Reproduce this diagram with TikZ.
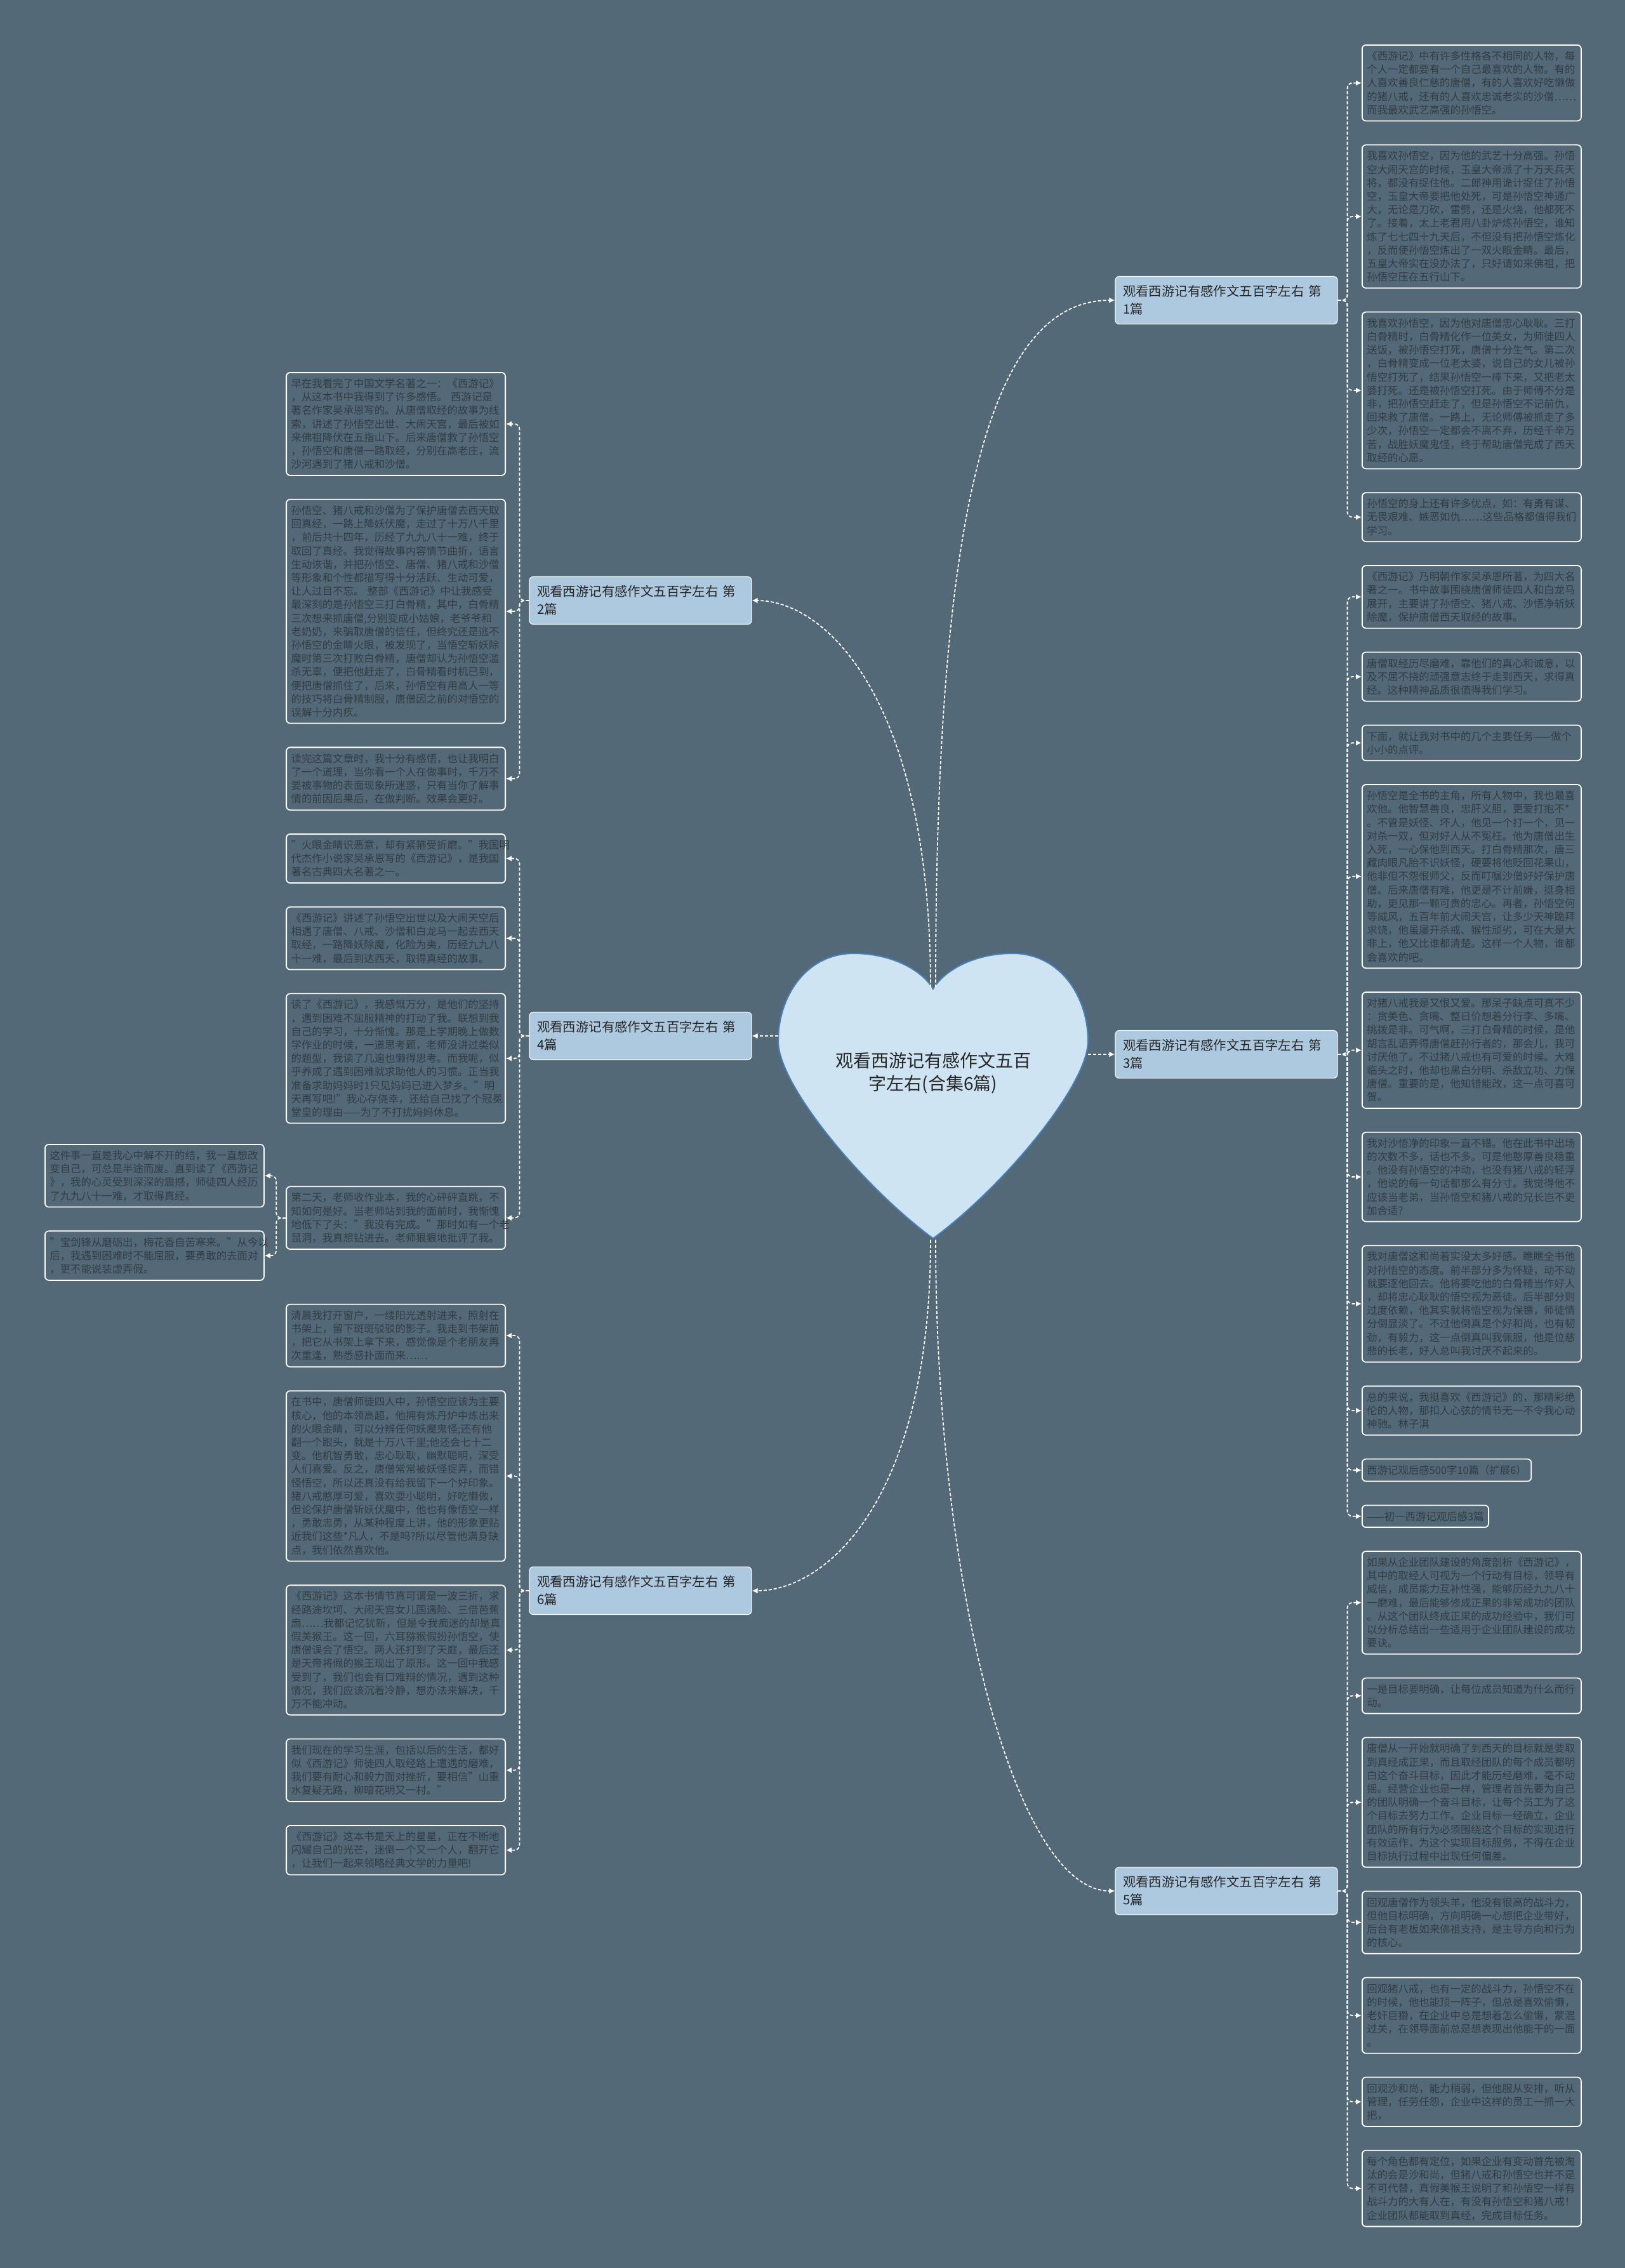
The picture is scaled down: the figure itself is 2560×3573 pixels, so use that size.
\documentclass[tikz,border=0pt]{standalone}
\usepackage{fontspec}
\setmainfont{Noto Sans CJK SC}
\usepackage{xcolor}
\usetikzlibrary{arrows.meta,positioning}

\definecolor{slatebg}{RGB}{83,105,120}
\definecolor{leafink}{RGB}{50,60,68}
\definecolor{branchfill}{RGB}{173,201,223}
\definecolor{heartfill}{RGB}{206,228,242}
\definecolor{heartline}{RGB}{72,128,186}

\newcommand\leaffont{\fontsize{8.2pt}{10.6pt}\selectfont}
\newcommand\branchfont{\fontsize{10.2pt}{14pt}\selectfont}
\newcommand\rootfont{\fontsize{14pt}{18pt}\selectfont}

\begin{document}
\begin{tikzpicture}[
    x=0.5pt, y=-0.5pt,
    node distance = 18pt,
    leafbase/.style = {draw=white, line width=0.9pt, rounded corners=3pt, fill=slatebg,
                       text=leafink, font=\leaffont, align=left,
                       inner xsep=3.75pt, inner ysep=4.86pt},
    leaf/.style     = {leafbase, text width=165pt},
    branch/.style   = {draw=white!85!branchfill, line width=0.6pt, rounded corners=3pt,
                       fill=branchfill, text=black!85, font=\branchfont,
                       text width=163pt, align=left, inner xsep=6pt, inner ysep=7pt},
    conn/.style     = {draw=white, line width=0.9pt, dash pattern=on 2.5pt off 1.5pt,
                       -{Latex[length=4.5pt,width=4.5pt]}},
    trunk/.style    = {conn, rounded corners=4pt},
]

% ---------------- Background ----------------
\fill[slatebg] (0,0) rectangle (2560,3573);
\useasboundingbox (0,0) rectangle (2560,3573);

% ---------------- Root (heart) ----------------
\draw[heartline, fill=heartfill, line width=1pt]
    (1470,1558) .. controls (1450,1525) and (1400,1502) .. (1345,1502)
    .. controls (1270,1502) and (1226,1570) .. (1226,1640)
    .. controls (1226,1710) and (1360,1870) .. (1470,1951)
    .. controls (1580,1870) and (1714,1710) .. (1714,1640)
    .. controls (1714,1570) and (1670,1502) .. (1595,1502)
    .. controls (1540,1502) and (1490,1525) .. cycle;
\node[font=\rootfont, text=black!85, align=center] (root) at (1470,1690)
    {观看西游记有感作文五百\\字左右(合集6篇)};

\coordinate (hN1) at (1474,1556);
\coordinate (hN2) at (1466,1556);
\coordinate (hS5) at (1474,1953);
\coordinate (hS6) at (1466,1953);
\coordinate (hE)  at (1714,1661);
\coordinate (hW)  at (1226,1632);

% ---------------- Branches ----------------
\node[branch] (B1) at (1932,473)  {观看西游记有感作文五百字左右 第\\1篇};
\node[branch] (B3) at (1932,1661) {观看西游记有感作文五百字左右 第\\3篇};
\node[branch] (B5) at (1932,2979) {观看西游记有感作文五百字左右 第\\5篇};
\node[branch] (B2) at (1009,946)  {观看西游记有感作文五百字左右 第\\2篇};
\node[branch] (B4) at (1009,1632) {观看西游记有感作文五百字左右 第\\4篇};
\node[branch] (B6) at (1009,2506) {观看西游记有感作文五百字左右 第\\6篇};

% ---------------- Right column: 第1篇 ----------------
\node[leaf, anchor=north west] (R1a) at (2145,70)
    {《西游记》中有许多性格各不相同的人物，每\\个人一定都要有一个自己最喜欢的人物。有的\\人喜欢善良仁慈的唐僧，有的人喜欢好吃懒做\\的猪八戒，还有的人喜欢忠诚老实的沙僧……\\而我最欢武艺高强的孙悟空。};
\node[leaf, below=of R1a.south west, anchor=north west] (R1b)
    {我喜欢孙悟空，因为他的武艺十分高强。孙悟\\空大闹天宫的时候，玉皇大帝派了十万天兵天\\将，都没有捉住他。二郎神用诡计捉住了孙悟\\空，玉皇大帝要把他处死，可是孙悟空神通广\\大，无论是刀砍，雷劈，还是火烧，他都死不\\了。接着，太上老君用八卦炉炼孙悟空，谁知\\炼了七七四十九天后，不但没有把孙悟空炼化\\，反而使孙悟空炼出了一双火眼金睛。最后，\\五皇大帝实在没办法了，只好请如来佛祖，把\\孙悟空压在五行山下。};
\node[leaf, below=of R1b.south west, anchor=north west] (R1c)
    {我喜欢孙悟空，因为他对唐僧忠心耿耿。三打\\白骨精时，白骨精化作一位美女，为师徒四人\\送饭，被孙悟空打死，唐僧十分生气。第二次\\，白骨精变成一位老太婆，说自己的女儿被孙\\悟空打死了，结果孙悟空一棒下来，又把老太\\婆打死。还是被孙悟空打死。由于师傅不分是\\非，把孙悟空赶走了，但是孙悟空不记前仇，\\回来救了唐僧。一路上，无论师傅被抓走了多\\少次，孙悟空一定都会不离不弃，历经千辛万\\苦，战胜妖魔鬼怪，终于帮助唐僧完成了西天\\取经的心愿。};
\node[leaf, below=of R1c.south west, anchor=north west] (R1d)
    {孙悟空的身上还有许多优点，如：有勇有谋、\\无畏艰难、嫉恶如仇……这些品格都值得我们\\学习。};

% ---------------- Right column: 第3篇 ----------------
\node[leaf, below=of R1d.south west, anchor=north west] (R3a)
    {《西游记》乃明朝作家吴承恩所著，为四大名\\著之一。书中故事围绕唐僧师徒四人和白龙马\\展开，主要讲了孙悟空、猪八戒、沙悟净斩妖\\除魔，保护唐僧西天取经的故事。};
\node[leaf, below=of R3a.south west, anchor=north west] (R3b)
    {唐僧取经历尽磨难，靠他们的真心和诚意，以\\及不屈不挠的顽强意志终于走到西天，求得真\\经。这种精神品质很值得我们学习。};
\node[leaf, below=of R3b.south west, anchor=north west] (R3c)
    {下面，就让我对书中的几个主要任务——做个\\小小的点评。};
\node[leaf, below=of R3c.south west, anchor=north west] (R3d)
    {孙悟空是全书的主角，所有人物中，我也最喜\\欢他。他智慧善良，忠肝义胆，更爱打抱不*\\。不管是妖怪、坏人，他见一个打一个，见一\\对杀一双，但对好人从不冤枉。他为唐僧出生\\入死，一心保他到西天。打白骨精那次，唐三\\藏肉眼凡胎不识妖怪，硬要将他贬回花果山，\\他非但不怨恨师父，反而叮嘱沙僧好好保护唐\\僧。后来唐僧有难，他更是不计前嫌，挺身相\\助，更见那一颗可贵的忠心。再者，孙悟空何\\等威风，五百年前大闹天宫，让多少天神跪拜\\求饶，他虽屡开杀戒、猴性顽劣，可在大是大\\非上，他又比谁都清楚。这样一个人物，谁都\\会喜欢的吧。};
\node[leaf, below=of R3d.south west, anchor=north west] (R3e)
    {对猪八戒我是又恨又爱。那呆子缺点可真不少\\：贪美色、贪嘴、整日价想着分行李、多嘴、\\挑拨是非。可气啊，三打白骨精的时候，是他\\胡言乱语弄得唐僧赶孙行者的，那会儿，我可\\讨厌他了。不过猪八戒也有可爱的时候。大难\\临头之时，他却也黑白分明、杀敌立功、力保\\唐僧。重要的是，他知错能改，这一点可喜可\\贺。};
\node[leaf, below=of R3e.south west, anchor=north west] (R3f)
    {我对沙悟净的印象一直不错。他在此书中出场\\的次数不多，话也不多。可是他憨厚善良稳重\\。他没有孙悟空的冲动，也没有猪八戒的轻浮\\，他说的每一句话都那么有分寸。我觉得他不\\应该当老弟，当孙悟空和猪八戒的兄长岂不更\\加合适?};
\node[leaf, below=of R3f.south west, anchor=north west] (R3g)
    {我对唐僧这和尚着实没太多好感。瞧瞧全书他\\对孙悟空的态度。前半部分多为怀疑，动不动\\就要逐他回去。他将要吃他的白骨精当作好人\\，却将忠心耿耿的悟空视为恶徒。后半部分则\\过度依赖，他其实就将悟空视为保镖，师徒情\\分倒显淡了。不过他倒真是个好和尚，也有韧\\劲，有毅力，这一点倒真叫我佩服，他是位慈\\悲的长老，好人总叫我讨厌不起来的。};
\node[leaf, below=of R3g.south west, anchor=north west] (R3h)
    {总的来说，我挺喜欢《西游记》的，那精彩绝\\伦的人物，那扣人心弦的情节无一不令我心动\\神驰。林子淇};
\node[leafbase, below=of R3h.south west, anchor=north west] (R3i)
    {西游记观后感500字10篇（扩展6）};
\node[leafbase, below=of R3i.south west, anchor=north west] (R3j)
    {——初一西游记观后感3篇};

% ---------------- Right column: 第5篇 ----------------
\node[leaf, below=of R3j.south west, anchor=north west] (R5a)
    {如果从企业团队建设的角度剖析《西游记》，\\其中的取经人可视为一个行动有目标，领导有\\威信，成员能力互补性强，能够历经九九八十\\一磨难，最后能够修成正果的非常成功的团队\\。从这个团队终成正果的成功经验中，我们可\\以分析总结出一些适用于企业团队建设的成功\\要诀。};
\node[leaf, below=of R5a.south west, anchor=north west] (R5b)
    {一是目标要明确，让每位成员知道为什么而行\\动。};
\node[leaf, below=of R5b.south west, anchor=north west] (R5c)
    {唐僧从一开始就明确了到西天的目标就是要取\\到真经成正果，而且取经团队的每个成员都明\\白这个奋斗目标，因此才能历经磨难，毫不动\\摇。经营企业也是一样，管理者首先要为自己\\的团队明确一个奋斗目标，让每个员工为了这\\个目标去努力工作。企业目标一经确立，企业\\团队的所有行为必须围绕这个目标的实现进行\\有效运作，为这个实现目标服务，不得在企业\\目标执行过程中出现任何偏差。};
\node[leaf, below=of R5c.south west, anchor=north west] (R5d)
    {回观唐僧作为领头羊，他没有很高的战斗力，\\但他目标明确，方向明确一心想把企业带好，\\后台有老板如来佛祖支持，是主导方向和行为\\的核心。};
\node[leaf, below=of R5d.south west, anchor=north west] (R5e)
    {回观猪八戒，也有一定的战斗力，孙悟空不在\\的时候，他也能顶一阵子，但总是喜欢偷懒，\\老奸巨猾，在企业中总是想着怎么偷懒，蒙混\\过关，在领导面前总是想表现出他能干的一面\\。};
\node[leaf, below=of R5e.south west, anchor=north west] (R5f)
    {回观沙和尚，能力稍弱，但他服从安排，听从\\管理，任劳任怨，企业中这样的员工一抓一大\\把，};
\node[leaf, below=of R5f.south west, anchor=north west] (R5g)
    {每个角色都有定位，如果企业有变动首先被淘\\汰的会是沙和尚，但猪八戒和孙悟空也并不是\\不可代替，真假美猴王说明了和孙悟空一样有\\战斗力的大有人在，有没有孙悟空和猪八戒！\\企业团队都能取到真经，完成目标任务。};

% ---------------- Left column: 第2篇 ----------------
\node[leaf, anchor=north east] (L2a) at (797,586)
    {早在我看完了中国文学名著之一：《西游记》\\，从这本书中我得到了许多感悟。 西游记是\\著名作家吴承恩写的。从唐僧取经的故事为线\\索，讲述了孙悟空出世、大闹天宫，最后被如\\来佛祖降伏在五指山下。后来唐僧救了孙悟空\\，孙悟空和唐僧一路取经，分别在高老庄，流\\沙河遇到了猪八戒和沙僧。};
\node[leaf, below=of L2a] (L2b)
    {孙悟空、猪八戒和沙僧为了保护唐僧去西天取\\回真经，一路上降妖伏魔，走过了十万八千里\\，前后共十四年，历经了九九八十一难，终于\\取回了真经。我觉得故事内容情节曲折，语言\\生动诙谐，并把孙悟空、唐僧、猪八戒和沙僧\\等形象和个性都描写得十分活跃、生动可爱，\\让人过目不忘。 整部《西游记》中让我感受\\最深刻的是孙悟空三打白骨精，其中，白骨精\\三次想来抓唐僧,分别变成小姑娘，老爷爷和\\老奶奶，来骗取唐僧的信任，但终究还是逃不\\孙悟空的金睛火眼，被发现了，当悟空斩妖除\\魔时第三次打败白骨精，唐僧却认为孙悟空滥\\杀无辜，便把他赶走了，白骨精看时机已到，\\便把唐僧抓住了，后来，孙悟空有用高人一等\\的技巧将白骨精制服，唐僧因之前的对悟空的\\误解十分内疚。};
\node[leaf, below=of L2b] (L2c)
    {读完这篇文章时，我十分有感悟，也让我明白\\了一个道理，当你看一个人在做事时，千万不\\要被事物的表面现象所迷惑，只有当你了解事\\情的前因后果后，在做判断。效果会更好。};

% ---------------- Left column: 第4篇 ----------------
\node[leaf, below=of L2c] (L4a)
    {"火眼金睛识恶意，却有紧箍受折磨。"我国明\\代杰作小说家吴承恩写的《西游记》，是我国\\著名古典四大名著之一。};
\node[leaf, below=of L4a] (L4b)
    {《西游记》讲述了孙悟空出世以及大闹天空后\\相遇了唐僧、八戒、沙僧和白龙马一起去西天\\取经，一路降妖除魔，化险为夷，历经九九八\\十一难，最后到达西天，取得真经的故事。};
\node[leaf, below=of L4b] (L4c)
    {读了《西游记》，我感慨万分，是他们的坚持\\，遇到困难不屈服精神的打动了我。联想到我\\自己的学习，十分惭愧。那是上学期晚上做数\\学作业的时候，一道思考题，老师没讲过类似\\的题型，我读了几遍也懒得思考。而我呢，似\\乎养成了遇到困难就求助他人的习惯。正当我\\准备求助妈妈时1只见妈妈已进入梦乡。"明\\天再写吧!"我心存侥幸，还给自己找了个冠冕\\堂皇的理由——为了不打扰妈妈休息。};
\node[leaf, below=49pt of L4c] (L4d)
    {第二天，老师收作业本，我的心砰砰直跳，不\\知如何是好。当老师站到我的面前时，我惭愧\\地低下了头："我没有完成。"那时如有一个老\\鼠洞，我真想钻进去。老师狠狠地批评了我。};

% ---------------- Far left: after 第二天 ----------------
\node[leaf, anchor=north west] (F1) at (70,1802)
    {这件事一直是我心中解不开的结，我一直想改\\变自己，可总是半途而废。直到读了《西游记\\》，我的心灵受到深深的震撼，师徒四人经历\\了九九八十一难，才取得真经。};
\node[leaf, below=of F1] (F2)
    {"宝剑锋从磨砺出，梅花香自苦寒来。"从今以\\后，我遇到困难时不能屈服，要勇敢的去面对\\，更不能说装虚弄假。};

% ---------------- Left column: 第6篇 ----------------
\coordinate (L6top) at (L4d.south |- F2.south);
\node[leaf, below=of L6top] (L6a)
    {清晨我打开窗户，一缕阳光透射进来，照射在\\书架上，留下斑斑驳驳的影子。我走到书架前\\，把它从书架上拿下来，感觉像是个老朋友再\\次重逢，熟悉感扑面而来……};
\node[leaf, below=of L6a] (L6b)
    {在书中，唐僧师徒四人中，孙悟空应该为主要\\核心，他的本领高超，他拥有炼丹炉中炼出来\\的火眼金睛，可以分辨任何妖魔鬼怪;还有他\\翻一个跟头，就是十万八千里;他还会七十二\\变。他机智勇敢，忠心耿耿，幽默聪明，深受\\人们喜爱。反之，唐僧常常被妖怪捉弄，而错\\怪悟空，所以还真没有给我留下一个好印象。\\猪八戒憨厚可爱，喜欢耍小聪明，好吃懒做，\\但论保护唐僧斩妖伏魔中，他也有像悟空一样\\，勇敢忠勇，从某种程度上讲，他的形象更贴\\近我们这些*凡人，不是吗?所以尽管他满身缺\\点，我们依然喜欢他。};
\node[leaf, below=of L6b] (L6c)
    {《西游记》这本书情节真可谓是一波三折，求\\经路途坎坷、大闹天宫女儿国遇险、三借芭蕉\\扇……我都记忆犹新，但是令我痴迷的却是真\\假美猴王。这一回，六耳猕猴假扮孙悟空，使\\唐僧误会了悟空。两人还打到了天庭，最后还\\是天帝将假的猴王现出了原形。这一回中我感\\受到了，我们也会有口难辩的情况，遇到这种\\情况，我们应该沉着冷静，想办法来解决，千\\万不能冲动。};
\node[leaf, below=of L6c] (L6d)
    {我们现在的学习生涯，包括以后的生活，都好\\似《西游记》师徒四人取经路上遭遇的磨难，\\我们要有耐心和毅力面对挫折，要相信"山重\\水复疑无路，柳暗花明又一村。"};
\node[leaf, below=of L6d] (L6e)
    {《西游记》这本书是天上的星星，正在不断地\\闪耀自己的光芒，迷倒一个又一个人，翻开它\\，让我们一起来领略经典文学的力量吧!};

% ---------------- Root to branches ----------------
\draw[conn] (hN1) .. controls (1474,800) and (1560,473) .. (B1.west);
\draw[conn] (hN2) .. controls (1466,1100) and (1300,946) .. (B2.east);
\draw[conn] (hE) -- (B3.west);
\draw[conn] (hW) -- (B4.east);
\draw[conn] (hS5) .. controls (1474,2500) and (1600,2979) .. (B5.west);
\draw[conn] (hS6) .. controls (1466,2366) and (1300,2506) .. (B6.east);

% ---------------- Branches to leaves ----------------
\foreach \leafname in {R1a,R1b,R1c,R1d}
    \draw[trunk] (B1.east) -- ++(15,0) |- (\leafname.west);
\foreach \leafname in {R3a,R3b,R3c,R3d,R3e,R3f,R3g,R3h,R3i,R3j}
    \draw[trunk] (B3.east) -- ++(15,0) |- (\leafname.west);
\foreach \leafname in {R5a,R5b,R5c,R5d,R5e,R5f,R5g}
    \draw[trunk] (B5.east) -- ++(15,0) |- (\leafname.west);
\foreach \leafname in {L2a,L2b,L2c}
    \draw[trunk] (B2.west) -- ++(-15,0) |- (\leafname.east);
\foreach \leafname in {L4a,L4b,L4c,L4d}
    \draw[trunk] (B4.west) -- ++(-15,0) |- (\leafname.east);
\foreach \leafname in {L6a,L6b,L6c,L6d,L6e}
    \draw[trunk] (B6.west) -- ++(-15,0) |- (\leafname.east);
\foreach \leafname in {F1,F2}
    \draw[trunk] (L4d.west) -- ++(-15,0) |- (\leafname.east);

\end{tikzpicture}
\end{document}
